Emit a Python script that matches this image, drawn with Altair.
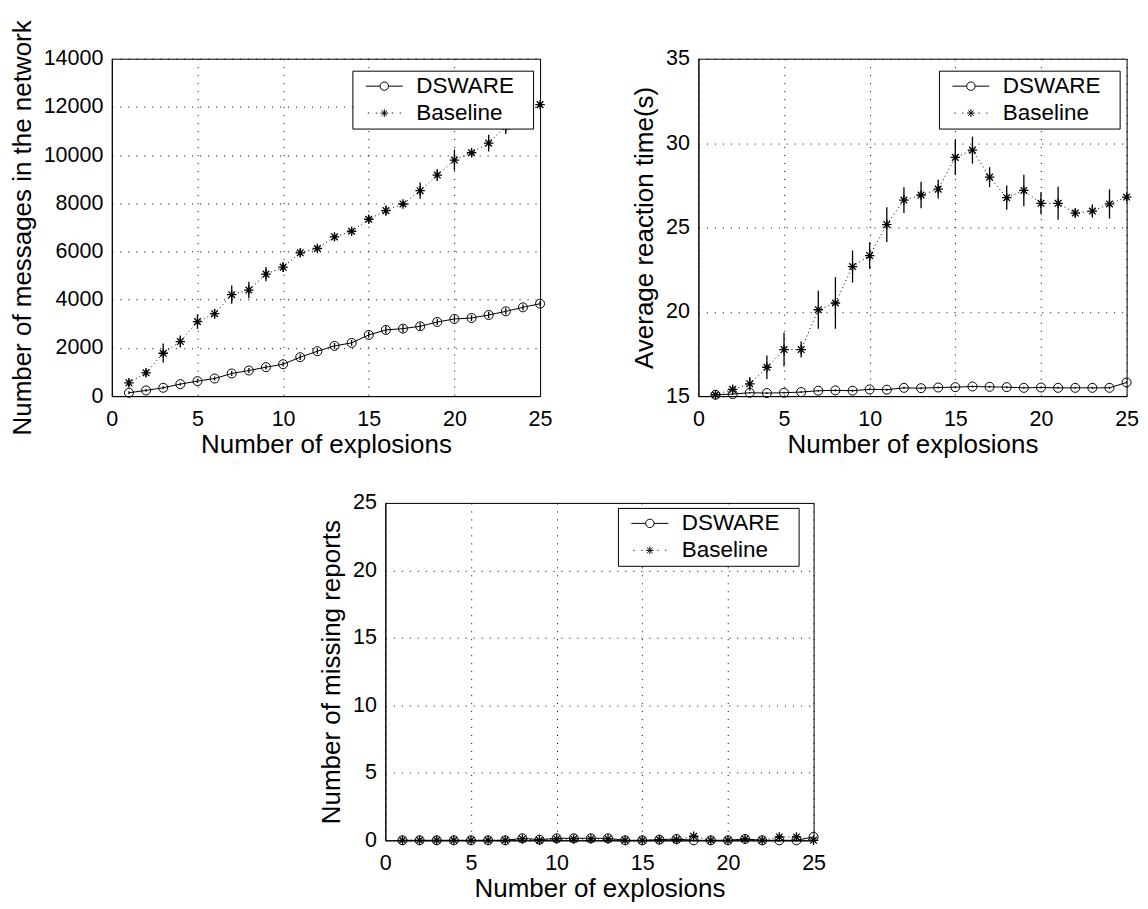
import altair as alt
import pandas as pd

explosions = list(range(1, 26))

# Panel 1: number of messages
msg_dsware = [139, 236, 346, 498, 621, 731, 938, 1062, 1200, 1324, 1614, 1862, 2083,
              2207, 2538, 2745, 2800, 2897, 3076, 3200, 3241, 3365, 3517, 3683, 3834]
msg_dsware_err = [60, 60, 60, 60, 80, 80, 100, 100, 100, 100, 120, 120, 120,
                  120, 120, 150, 150, 150, 130, 130, 130, 130, 130, 120, 100]
msg_baseline = [552, 965, 1779, 2262, 3090, 3421, 4207, 4400, 5062, 5352, 5945, 6124, 6607,
                6841, 7338, 7697, 7972, 8524, 9172, 9793, 10097, 10497, 11200, 11650, 12095]
msg_baseline_err = [150, 150, 400, 250, 300, 200, 380, 340, 300, 200, 150, 150, 150,
                    150, 150, 200, 120, 340, 250, 430, 150, 350, 320, 200, 100]

# Panel 2: average reaction time
rt_dsware = [15.08, 15.12, 15.20, 15.18, 15.20, 15.24, 15.32, 15.34, 15.32, 15.40, 15.38, 15.49, 15.47,
             15.51, 15.53, 15.57, 15.55, 15.53, 15.49, 15.51, 15.49, 15.49, 15.49, 15.49, 15.81]
rt_dsware_err = [0.05, 0.05, 0.05, 0.05, 0.05, 0.05, 0.06, 0.06, 0.06, 0.06, 0.06, 0.06, 0.06,
                 0.06, 0.06, 0.06, 0.06, 0.06, 0.06, 0.06, 0.06, 0.06, 0.06, 0.06, 0.06]
rt_baseline = [15.08, 15.40, 15.73, 16.71, 17.76, 17.76, 20.12, 20.52, 22.68, 23.33, 25.17, 26.62, 26.92,
               27.27, 29.15, 29.58, 27.98, 26.76, 27.19, 26.43, 26.43, 25.85, 25.97, 26.39, 26.80]
rt_baseline_err = [0.10, 0.20, 0.40, 0.69, 1.00, 0.47, 1.13, 1.53, 0.95, 0.79, 1.03, 0.76, 0.79,
                   0.56, 1.04, 0.80, 0.59, 0.72, 0.93, 0.67, 0.98, 0.27, 0.39, 0.87, 0.18]

# Panel 3: missing reports
miss_dsware = [0, 0, 0, 0, 0, 0, 0, 0.15, 0.05, 0.15, 0.15, 0.15, 0.15,
               0, 0, 0.05, 0.1, 0, 0, 0, 0.1, 0, 0, 0, 0.25]
miss_dsware_err = [0] * 25
miss_baseline = [0, 0, 0, 0, 0, 0, 0, 0.1, 0, 0.1, 0.1, 0.1, 0.1,
                 0, 0, 0.05, 0.05, 0.3, 0, 0, 0.1, 0, 0.25, 0.25, 0]
miss_baseline_err = [0] * 25

series_names = ["DSWARE", "Baseline"]
x_ticks = [0, 5, 10, 15, 20, 25]

FONT = "Liberation Sans"
STAR = "M0,-1L0,1M-1,0L1,0M-0.7,-0.7L0.7,0.7M-0.7,0.7L0.7,-0.7"
LEG_DSWARE = ("M-0.542,0L0.054,0M0.404,0L1,0"
              "M0.404,0A0.175,0.175 0 1 1 0.054,0A0.175,0.175 0 1 1 0.404,0")
LEG_BASE = ("M-0.46,0L-0.41,0M-0.13,0L-0.08,0M0.54,0L0.59,0M0.87,0L0.92,0"
            "M0.229,-0.16L0.229,0.16M0.069,0L0.389,0"
            "M0.116,-0.113L0.342,0.113M0.116,0.113L0.342,-0.113")

W, H = 429, 338


def make_df(vals, errs, name):
    df = pd.DataFrame({"x": explosions, "v": vals, "e": errs})
    df["lo"] = df["v"] - df["e"]
    df["hi"] = df["v"] + df["e"]
    df["series"] = name
    return df


def panel(d_vals, d_err, b_vals, b_err, ydom, yticks, ytitle, lx, ly, show_err=True):
    dd = make_df(d_vals, d_err, "DSWARE")
    db = make_df(b_vals, b_err, "Baseline")
    both = pd.concat([dd, db], ignore_index=True)

    xenc = alt.X("x:Q", scale=alt.Scale(domain=[0, 25], nice=False),
                 axis=alt.Axis(values=x_ticks, title="Number of explosions", format="d"))

    def yenc(field):
        return alt.Y(field, type="quantitative", scale=alt.Scale(domain=ydom, nice=False, zero=False),
                     axis=alt.Axis(values=yticks, title=ytitle, format="d"))

    line_d = alt.Chart(dd).mark_line(color="black", strokeWidth=1).encode(x=xenc, y=yenc("v"))
    line_b = alt.Chart(db).mark_line(color="black", strokeWidth=1, strokeDash=[1, 3]).encode(
        x=xenc, y=yenc("v"))
    layers = [line_d, line_b]
    if show_err:
        err = alt.Chart(both).mark_rule(color="black", strokeWidth=1.3).encode(
            x=xenc, y=yenc("lo"), y2="hi")
        layers.append(err)
    pts_d = alt.Chart(dd).mark_point(shape="circle", filled=False, size=81, color="black",
                                     strokeWidth=1, opacity=1).encode(x=xenc, y=yenc("v"))
    pts_b = alt.Chart(db).mark_point(shape=STAR, filled=False, size=90, color="black",
                                     strokeWidth=1.3, opacity=1).encode(x=xenc, y=yenc("v"))
    leg = alt.Chart(both).transform_filter("false").mark_point(
        filled=False, color="black", opacity=1).encode(
        x=xenc, y=yenc("v"),
        shape=alt.Shape("series:N",
                        scale=alt.Scale(domain=series_names, range=[LEG_DSWARE, LEG_BASE]),
                        legend=alt.Legend(title=None, orient="none", legendX=lx, legendY=ly,
                                          fillColor="white", strokeColor="black", padding=2,
                                          symbolSize=2304, symbolStrokeWidth=1,
                                          symbolStrokeColor="black", symbolFillColor="transparent",
                                          labelFont=FONT, labelFontSize=22.5, labelColor="black",
                                          labelOffset=13, clipHeight=27, rowPadding=0,
                                          labelExpr="datum.label + '\u2800'",
                                          zindex=1)))
    layers += [pts_d, pts_b, leg]
    return alt.layer(*layers).properties(width=W, height=H)


p1 = panel(msg_dsware, msg_dsware_err, msg_baseline, msg_baseline_err, [0, 14000],
           list(range(0, 14001, 2000)), "Number of messages in the network", 241, 12)
p2 = panel(rt_dsware, rt_dsware_err, rt_baseline, rt_baseline_err, [15, 35],
           [15, 20, 25, 30, 35], "Average reaction time(s)", 241, 12)
p3 = panel(miss_dsware, miss_dsware_err, miss_baseline, miss_baseline_err, [0, 25],
           [0, 5, 10, 15, 20, 25], "Number of missing reports", 233, 5, show_err=False)

spacer = alt.Chart(pd.DataFrame({"s": [0]})).mark_point(opacity=0).encode(
    x=alt.X("s:Q", axis=None), y=alt.Y("s:Q", axis=None)
).properties(width=274, height=10, view=alt.ViewBackground(strokeOpacity=0))

top = alt.hconcat(p1, p2, spacing=158.6, bounds="flush").resolve_scale(
    shape="independent").resolve_legend(shape="independent")
bottom = alt.hconcat(spacer, p3, spacing=0, bounds="flush").resolve_scale(
    shape="independent").resolve_legend(shape="independent")

# nested flush groups report no height of their own, so the gap includes the panel height
chart = alt.vconcat(top, bottom, spacing=445, bounds="flush").resolve_scale(
    shape="independent").resolve_legend(shape="independent").properties(
    padding={"top": 10, "left": 0, "right": 0, "bottom": 0},
    background="white",
).configure_view(stroke="black", strokeWidth=1).configure_axis(
    labelFont=FONT, titleFont=FONT, labelFontSize=21.5, titleFontSize=26, titleFontWeight="normal",
    labelColor="black", titleColor="black", domainColor="black", domainWidth=1, ticks=False,
    grid=True, gridColor="black", gridDash=[1, 7], gridWidth=1, gridOpacity=1,
    labelPadding=9, titlePadding=8, labelFlush=False, labelOverlap=False,
).configure_axisX(labelPadding=12, titlePadding=2)

chart.save("out.html", embed_options={"renderer": "svg", "actions": False})
